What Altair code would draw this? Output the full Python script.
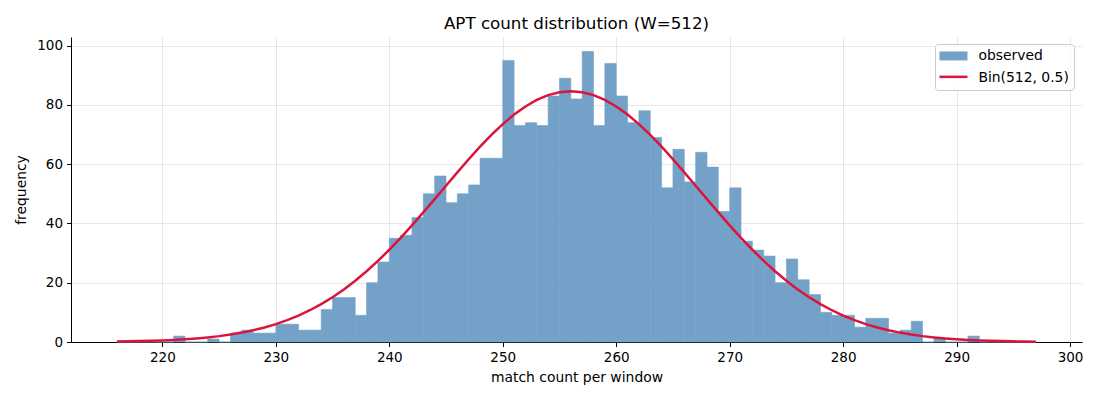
import altair as alt
import pandas as pd

# histogram: integer bins [k, k+1) for k = 216..296
bin_start = list(range(216, 297))
counts = [0, 0, 0, 0, 0, 2, 0, 0, 1, 0,
          3, 4, 3, 3, 6, 6, 4, 4, 11, 15,
          15, 9, 20, 27, 35, 36, 42, 50, 56, 47,
          50, 53, 62, 62, 95, 73, 74, 73, 83, 89,
          82, 98, 73, 94, 83, 74, 78, 69, 52, 65,
          54, 64, 59, 44, 52, 34, 31, 29, 20, 28,
          21, 16, 10, 9, 9, 5, 8, 8, 3, 4,
          7, 0, 1, 0, 0, 2, 0, 0, 0, 0, 0]

# expected curve Bin(512, 0.5) scaled to the sample, read at k = 216..297
curve_k = list(range(216, 298))
curve_y = [0.16, 0.22, 0.30, 0.40, 0.54, 0.71, 0.92, 1.20, 1.55, 1.98,
           2.52, 3.17, 3.96, 4.90, 6.03, 7.37, 8.92, 10.71, 12.77, 15.10,
           17.73, 20.65, 23.87, 27.36, 31.12, 35.12, 39.34, 43.72, 48.21, 52.73,
           57.24, 61.66, 65.89, 69.86, 73.50, 76.73, 79.47, 81.68, 83.29, 84.27,
           84.60, 84.27, 83.29, 81.68, 79.47, 76.73, 73.50, 69.86, 65.89, 61.66,
           57.24, 52.73, 48.21, 43.72, 39.34, 35.12, 31.12, 27.36, 23.87, 20.65,
           17.73, 15.10, 12.77, 10.71, 8.92, 7.37, 6.03, 4.90, 3.96, 3.17,
           2.52, 1.98, 1.55, 1.20, 0.92, 0.71, 0.54, 0.40, 0.30, 0.22,
           0.16, 0.12]

series_names = ["observed", "Bin(512, 0.5)"]
x_ticks = [220, 230, 240, 250, 260, 270, 280, 290, 300]
y_ticks = [0, 20, 40, 60, 80, 100]

FONT = "DejaVu Sans"
FS_TICK = 13.5
FS = 13.9
BAR = "#74a1c7"

hist_df = pd.DataFrame({
    "start": bin_start,
    "end": [b + 1 for b in bin_start],
    "count": counts,
    "series": series_names[0],
})
curve_df = pd.DataFrame({"k": curve_k, "y": curve_y, "series": series_names[1]})

x_scale = alt.Scale(domain=[211.95, 301.05], nice=False, zero=False)
y_scale = alt.Scale(domain=[0, 102.9], nice=False)

x_axis = alt.Axis(values=x_ticks, title="match count per window", format="d",
                  grid=True, labelFlush=False)
y_axis = alt.Axis(values=y_ticks, title="frequency", grid=True)

legend_common = dict(
    title=None, orient="none", legendX=864, padding=5, rowPadding=7,
    labelFont=FONT, labelFontSize=FS, symbolSize=100, symbolOffset=6.5,
    labelOffset=18,
)

bars = alt.Chart(hist_df).mark_rect(stroke=BAR, strokeWidth=0.6).encode(
    x=alt.X("start:Q", scale=x_scale, axis=x_axis),
    x2="end:Q",
    y=alt.Y("count:Q", scale=y_scale, axis=y_axis),
    y2=alt.datum(0),
    fill=alt.Fill(
        "series:N",
        scale=alt.Scale(domain=series_names, range=[BAR, "#ffffff"]),
        legend=alt.Legend(
            values=series_names, legendY=7,
            symbolType="M-2.8,-0.9H2.8V0.9H-2.8Z",
            symbolStrokeWidth=0,
            fillColor="rgba(255,255,255,0.8)", strokeColor="#cccccc",
            cornerRadius=3, labelColor="#000000", zindex=3,
            **legend_common,
        ),
    ),
)

line = alt.Chart(curve_df).mark_line(strokeWidth=2.5, interpolate="linear").encode(
    x=alt.X("k:Q", scale=x_scale),
    y=alt.Y("y:Q", scale=y_scale),
    stroke=alt.Stroke(
        "series:N",
        scale=alt.Scale(domain=[series_names[1]], range=["#dc143c"]),
        legend=alt.Legend(
            legendY=27.9, symbolType="M-2.8,0H2.8", symbolStrokeWidth=2.5,
            labelColor="transparent", zindex=4,
            **legend_common,
        ),
    ),
)

chart = alt.layer(bars, line).resolve_scale(fill="independent", stroke="independent").properties(
    width=1011,
    height=305,
    padding={"left": 63, "top": 29, "right": 10, "bottom": 50},
    autosize=alt.AutoSizeParams(type="none"),
    title=alt.TitleParams(
        "APT count distribution (W=512)", font=FONT, fontSize=16.7,
        fontWeight="normal", color="#000000", anchor="middle",
        baseline="bottom", offset=4, frame="group", dy=17,
    ),
).configure_view(stroke=None).configure_axis(
    labelFont=FONT, labelFontSize=FS_TICK, labelColor="#000000",
    titleFont=FONT, titleFontSize=FS, titleFontWeight="normal", titleColor="#000000",
    domainColor="#000000", domainWidth=1, tickColor="#000000", tickSize=4.5,
    tickWidth=1, gridColor="#b0b0b0", gridOpacity=0.3, gridWidth=1,
    labelPadding=4, zindex=1,
).configure_axisX(titlePadding=6).configure_axisY(titlePadding=8)

chart.save("out.html", embed_options={"renderer": "svg", "actions": False})
